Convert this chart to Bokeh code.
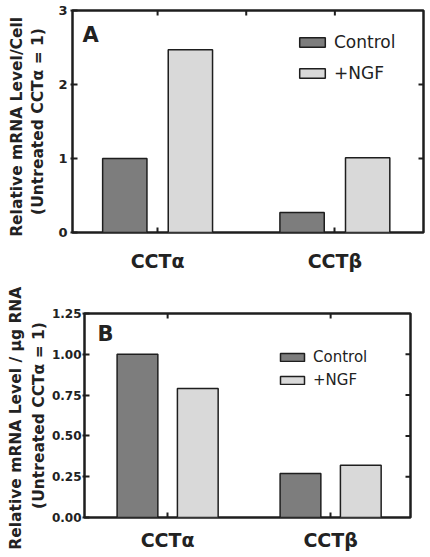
import math
from bokeh.plotting import figure
from bokeh.models import (Range1d, FixedTicker, LinearAxis, Label, Legend,
                          LegendItem, NumeralTickFormatter, CustomJSTickFormatter)
from bokeh.embed import file_html
from bokeh.resources import INLINE

# ---- data ----
categories = ["CCTα", "CCTβ"]
series = ["Control", "+NGF"]
a_control = [1.00, 0.27]
a_ngf = [2.47, 1.01]
b_control = [1.00, 0.27]
b_ngf = [0.79, 0.32]
a_yticks = [0, 1, 2, 3]
b_yticks = [0, 0.25, 0.50, 0.75, 1.00, 1.25]
a_ylabel = ["Relative  mRNA  Level/Cell", "(Untreated CCTα = 1)"]
b_ylabel = ["Relative  mRNA Level / μg RNA", "(Untreated CCTα = 1)"]

CTRL = "#7d7d7d"
NGF = "#d9d9d9"
EDGE = "#1e1e1e"
TXT = "#222222"
FONT = "DejaVu Sans"


def panel(letter, ctrl, ngf, yticks, ymax, ylabel, width, height,
          bl, br, bt, bb, xr, top_ticks, right_ticks, yfmt, tick_fs,
          tick_stand, lab_stand, leg, letter_pos, legend_fs, cat_stand):
    p = figure(width=width, height=height, output_backend="svg",
               toolbar_location=None, x_range=Range1d(*xr),
               y_range=Range1d(0, ymax), min_border_left=bl,
               min_border_right=br, min_border_top=bt, min_border_bottom=bb,
               background_fill_color="white", border_fill_color="white")
    p.xgrid.visible = False
    p.ygrid.visible = False
    p.outline_line_color = EDGE
    p.outline_line_width = 2.5

    pos = [i + 1 for i in range(len(categories))]
    r1 = p.vbar(x=[v - 0.185 for v in pos], top=ctrl, width=0.25,
                fill_color=CTRL, line_color=EDGE, line_width=1.5)
    r2 = p.vbar(x=[v + 0.185 for v in pos], top=ngf, width=0.25,
                fill_color=NGF, line_color=EDGE, line_width=1.5)

    # inward ticks on the top and right edges (outer half clipped by frame)
    p.scatter(x=top_ticks, y=[ymax] * len(top_ticks), marker="dash",
              size=10, angle=math.pi / 2, line_color=EDGE, line_width=2)
    p.scatter(x=[xr[1]] * len(right_ticks), y=right_ticks, marker="dash",
              size=10, line_color=EDGE, line_width=2)

    # left axis: ticks, tick labels and the second line of the y label
    ya = p.yaxis[0]
    ya.ticker = FixedTicker(ticks=yticks)
    if yfmt:
        ya.formatter = NumeralTickFormatter(format=yfmt)
    ya.axis_line_color = None
    ya.major_tick_in = 5
    ya.major_tick_out = 2
    ya.major_tick_line_width = 2
    ya.major_tick_line_color = EDGE
    ya.minor_tick_line_color = None
    ya.major_label_text_font = FONT
    ya.major_label_text_font_style = "bold"
    ya.major_label_text_font_size = tick_fs
    ya.major_label_text_color = TXT
    ya.major_label_standoff = tick_stand
    ya.axis_label = ylabel[1]
    ya.axis_label_text_font = FONT
    ya.axis_label_text_font_style = "bold"
    ya.axis_label_text_font_size = "15.5px"
    ya.axis_label_text_color = TXT
    ya.axis_label_standoff = lab_stand[0]

    # outer left axis carrying the first line of the y label
    ya2 = LinearAxis(ticker=FixedTicker(ticks=yticks),
                     formatter=CustomJSTickFormatter(code="return ''"))
    ya2.axis_line_color = None
    ya2.major_tick_line_color = None
    ya2.minor_tick_line_color = None
    ya2.major_tick_in = 0
    ya2.major_tick_out = 0
    ya2.major_label_standoff = 0
    ya2.axis_label = ylabel[0]
    ya2.axis_label_text_font = FONT
    ya2.axis_label_text_font_style = "bold"
    ya2.axis_label_text_font_size = "15.5px"
    ya2.axis_label_text_color = TXT
    ya2.axis_label_standoff = lab_stand[1]
    p.add_layout(ya2, "left")

    # bottom axis with the category names
    xa = p.xaxis[0]
    xa.ticker = FixedTicker(ticks=pos)
    xa.major_label_overrides = {pos[i]: categories[i] for i in range(len(pos))}
    xa.axis_line_color = None
    xa.major_tick_in = 5
    xa.major_tick_out = 0
    xa.major_tick_line_width = 2
    xa.major_tick_line_color = EDGE
    xa.minor_tick_line_color = None
    xa.major_label_text_font = FONT
    xa.major_label_text_font_style = "bold"
    xa.major_label_text_font_size = "19px"
    xa.major_label_text_color = TXT
    xa.major_label_standoff = cat_stand

    fh = height - bt - bb
    # panel letter
    p.add_layout(Label(x=letter_pos[0], y=fh - letter_pos[1],
                       x_units="screen", y_units="screen", text=letter,
                       text_align="left", text_baseline="top",
                       text_font=FONT, text_font_style="bold",
                       text_font_size="21px", text_color=TXT))

    # legend
    legend = Legend(items=[LegendItem(label=series[0], renderers=[r1]),
                           LegendItem(label=series[1], renderers=[r2])],
                    location=(leg[0], fh - leg[1]), orientation="vertical",
                    padding=0, margin=0, border_line_color=None,
                    background_fill_alpha=0, glyph_width=leg[2],
                    glyph_height=leg[3], label_height=leg[4],
                    spacing=leg[5], label_standoff=6,
                    label_text_font=FONT, label_text_font_size=legend_fs,
                    label_text_color=TXT)
    p.add_layout(legend)
    return p


pa = panel("A", a_control, a_ngf, a_yticks, 3, a_ylabel,
           width=430, height=280, bl=72, br=7, bt=10, bb=48,
           xr=(0.52, 2.5), top_ticks=[1, 1.5, 2], right_ticks=[1, 2],
           yfmt=None, tick_fs="13px", tick_stand=3, lab_stand=(8, 1),
           leg=(224, 73, 32, 12, 20, 11), letter_pos=(10, 12),
           legend_fs="17px", cat_stand=17)

pb = panel("B", b_control, b_ngf, b_yticks, 1.25, b_ylabel,
           width=430, height=277, bl=84, br=20, bt=33, bb=40,
           xr=(0.49, 2.49), top_ticks=[1, 2],
           right_ticks=[0.25, 0.5, 0.75, 1.0], yfmt="0.00",
           tick_fs="12px", tick_stand=1, lab_stand=(1, 2),
           leg=(193, 76, 30, 10, 18, 5), letter_pos=(13, 8),
           legend_fs="15px", cat_stand=11)

# two separate roots so that Bokeh does not align the two plot frames
open("out.html", "w").write(file_html((pa, pb), INLINE))
